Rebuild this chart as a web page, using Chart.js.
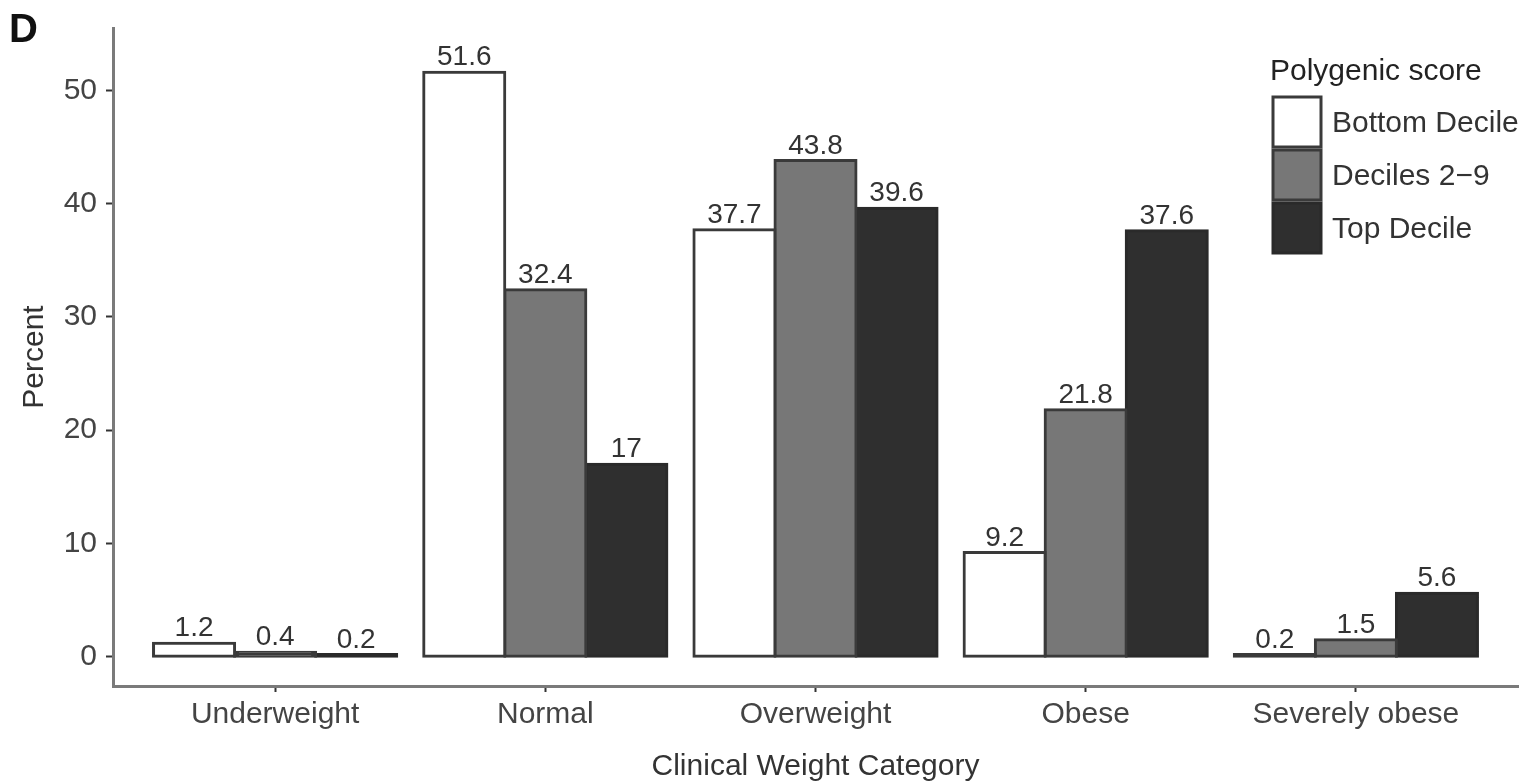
<!DOCTYPE html>
<html>
<head>
<meta charset="utf-8">
<script src="https://cdn.jsdelivr.net/npm/chart.js@4/dist/chart.umd.min.js"></script>
<style>
  html, body { margin: 0; padding: 0; background: #fff; }
  #wrap { width: 1525px; height: 782px; }
</style>
</head>
<body>
<div id="wrap"><canvas id="grafica"></canvas></div>
<script>
//Datos
const categorias = ['Underweight', 'Normal', 'Overweight', 'Obese', 'Severely obese'];
const bottomDecile = [1.2, 51.6, 37.7, 9.2, 0.2];
const deciles2a9 = [0.4, 32.4, 43.8, 21.8, 1.5];
const topDecile = [0.2, 17, 39.6, 37.6, 5.6];
const yTicks = [0, 10, 20, 30, 40, 50];

const fuente = "'Liberation Sans', Arial, sans-serif";

//posicion x = indice de categoria (1..5), para poder imitar el margen de ggplot
function aPuntos(valores) {
  return valores.map((v, i) => ({ x: i + 1, y: v }));
}

//barras muy bajas: el borde tapa el relleno (como el trazo centrado de ggplot)
function relleno(color, borde) {
  return (ctx) => (ctx.raw && ctx.raw.y < 0.5) ? borde : color;
}

//Etiquetas de valor encima de cada barra
const etiquetasBarras = {
  id: 'etiquetasBarras',
  afterDatasetsDraw(chart) {
    const ctx = chart.ctx;
    ctx.save();
    ctx.font = '28px ' + fuente;
    ctx.fillStyle = '#333333';
    ctx.textAlign = 'center';
    ctx.textBaseline = 'alphabetic';
    chart.data.datasets.forEach((ds, i) => {
      chart.getDatasetMeta(i).data.forEach((bar, j) => {
        ctx.fillText(String(ds.data[j].y), bar.x, bar.y - 7);
      });
    });
    ctx.restore();
  }
};

//Leyenda dibujada a mano dentro del area (como en ggplot)
const leyenda = {
  id: 'leyenda',
  afterDraw(chart) {
    const ctx = chart.ctx;
    const x0 = chart.chartArea.right - 245;
    ctx.save();
    ctx.font = '30px ' + fuente;
    ctx.fillStyle = '#222222';
    ctx.textAlign = 'left';
    ctx.textBaseline = 'middle';
    ctx.fillText('Polygenic score', x0 - 3, 72);
    chart.data.datasets.forEach((ds, i) => {
      const y0 = 97 + i * 53;
      ctx.fillStyle = ds.leyendaColor;
      ctx.fillRect(x0, y0, 48, 50);
      ctx.lineWidth = 3;
      ctx.strokeStyle = ds.borderColor;
      ctx.strokeRect(x0, y0, 48, 50);
      ctx.fillStyle = '#333333';
      ctx.fillText(ds.label, x0 + 59, y0 + 27);
    });
    //letra del panel
    ctx.font = 'bold 40px ' + fuente;
    ctx.fillStyle = '#111111';
    ctx.textBaseline = 'alphabetic';
    ctx.fillText('D', 9, 42);
    ctx.restore();
  }
};

const grafica = document.getElementById('grafica');

new Chart(grafica, {
  type: 'bar',
  data: {
    datasets: [{
      label: 'Bottom Decile',
      data: aPuntos(bottomDecile),
      leyendaColor: '#ffffff',
      backgroundColor: relleno('#ffffff', '#3a3a3a'),
      borderColor: '#3a3a3a'
    }, {
      label: 'Deciles 2\u22129',
      data: aPuntos(deciles2a9),
      leyendaColor: '#777777',
      backgroundColor: relleno('#777777', '#3a3a3a'),
      borderColor: '#3a3a3a'
    }, {
      label: 'Top Decile',
      data: aPuntos(topDecile),
      leyendaColor: '#2f2f2f',
      backgroundColor: relleno('#2f2f2f', '#2a2a2a'),
      borderColor: '#2a2a2a'
    }]
  },
  options: {
    responsive: true,
    maintainAspectRatio: false,
    animation: false,
    devicePixelRatio: 1,
    categoryPercentage: 0.9,
    barPercentage: 1.0,
    borderWidth: 3,
    borderSkipped: false,
    inflateAmount: 1.5,
    layout: { padding: { top: 28, right: 7, bottom: 0, left: 0 } },
    plugins: {
      legend: { display: false },
      tooltip: { enabled: false }
    },
    scales: {
      x: {
        type: 'linear',
        min: 0.4,
        max: 5.6,
        offset: false,
        afterFit(scale) { scale.height = 96; },
        border: { display: true, color: '#7a7a7a', width: 3 },
        grid: { display: true, offset: false, drawOnChartArea: false, drawTicks: true, tickLength: 6, tickWidth: 2, color: '#333333' },
        ticks: {
          stepSize: 1,
          includeBounds: false,
          autoSkip: false,
          maxRotation: 0,
          padding: 5,
          color: '#444444',
          font: { family: fuente, size: 30 },
          callback: (v) => categorias[v - 1] || ''
        },
        title: {
          display: true,
          text: 'Clinical Weight Category',
          color: '#333333',
          font: { family: fuente, size: 30, lineHeight: 1.0 },
          padding: { top: 0, bottom: 0 }
        }
      },
      y: {
        min: -2.58,
        max: 55.5,
        afterFit(scale) { scale.width = 113; },
        afterBuildTicks(scale) { scale.ticks = yTicks.map(v => ({ value: v })); },
        border: { display: true, color: '#7a7a7a', width: 3 },
        grid: { display: true, drawOnChartArea: false, drawTicks: true, tickLength: 7, tickWidth: 2, color: '#333333' },
        ticks: {
          padding: 9,
          color: '#444444',
          font: { family: fuente, size: 30 }
        },
        title: {
          display: true,
          text: 'Percent',
          color: '#333333',
          font: { family: fuente, size: 30, lineHeight: 1.0 },
          padding: { top: 20, bottom: 0 }
        }
      }
    }
  },
  plugins: [etiquetasBarras, leyenda]
});
</script>
</body>
</html>
